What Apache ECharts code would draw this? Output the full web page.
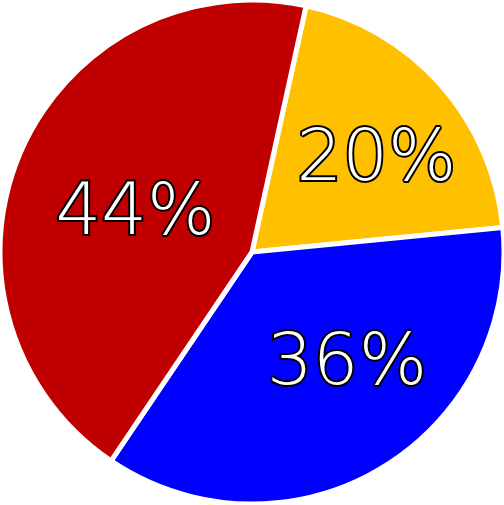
<!DOCTYPE html>
<html>
<head>
<meta charset="utf-8">
<script src="https://cdn.jsdelivr.net/npm/echarts@6/dist/echarts.min.js"></script>
<style>
html, body { margin: 0; padding: 0; background: #fff; }
#chart { width: 504px; height: 505px; }
</style>
</head>
<body>
<div id="chart"></div>
<script>
// slice data, clockwise from near 12 o'clock
var sliceNames = ['A', 'B', 'C'];
var sliceValues = [20, 36, 44];
var sliceColors = ['#FFC000', '#0000FF', '#C00000'];

// label nudges (layout only)
var labelOffsets = [[28, -5], [29, 2], [2, 14]];

var pieData = [];
for (var i = 0; i < sliceValues.length; i++) {
	pieData.push({
		name: sliceNames[i],
		value: sliceValues[i],
		itemStyle: { color: sliceColors[i] },
		label: { offset: labelOffsets[i] }
	});
}

var myChart = echarts.init(document.getElementById('chart'));
myChart.setOption({
	animation: false,
	series: [{
		type: 'pie',
		center: [252, 252],
		radius: 252,
		startAngle: 77.6,
		clockwise: true,
		itemStyle: {
			borderColor: '#ffffff',
			borderWidth: 5
		},
		label: {
			show: true,
			position: 'inside',
			formatter: '{c}%',
			color: '#ffffff',
			fontFamily: 'DejaVu Sans',
			fontWeight: 200,
			fontSize: 72,
			textBorderColor: '#000000',
			textBorderWidth: 4
		},
		labelLine: { show: false },
		data: pieData
	}]
});
</script>
</body>
</html>
